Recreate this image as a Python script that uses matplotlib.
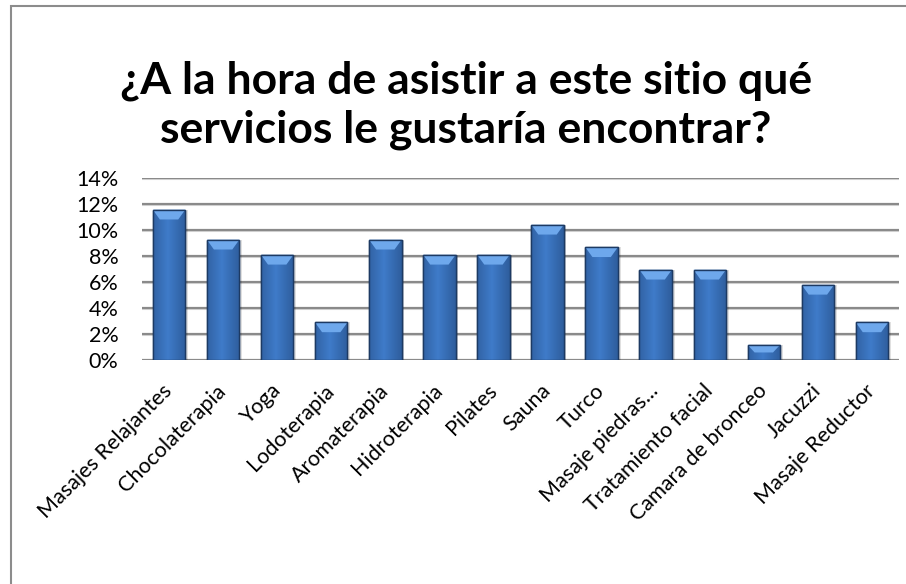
import numpy as np
import matplotlib
matplotlib.use("Agg")
import matplotlib.pyplot as plt
from matplotlib.patches import Rectangle, Polygon
from matplotlib.ticker import FuncFormatter

# ============================================================
# DATA
# ============================================================
services = [
    "Masajes Relajantes", "Chocolaterapia", "Yoga", "Lodoterapia",
    "Aromaterapia", "Hidroterapia", "Pilates", "Sauna", "Turco",
    "Masaje piedras...", "Tratamiento facial", "Camara de bronceo",
    "Jacuzzi", "Masaje Reductor",
]
share_pct = [11.56, 9.25, 8.09, 2.89, 9.25, 8.09, 8.09, 10.40, 8.67,
             6.94, 6.94, 1.16, 5.78, 2.89]
y_ticks = [0, 2, 4, 6, 8, 10, 12, 14]

title = "¿A la hora de asistir a este sitio qué\nservicios le gustaría encontrar?"

# ============================================================
# STYLE
# ============================================================
plt.rcParams["font.family"] = ["Lato", "DejaVu Sans"]
W, H = 906, 584
grid_col = "#8a8a8a"
edge_col = "#1d3a63"

fig = plt.figure(figsize=(W / 100, H / 100), dpi=100)

# chart frame (left + top edges visible)
fig.patches.append(Rectangle((11 / W, -0.2), 1.2, 1.2 - 6 / H,
                             transform=fig.transFigure, fill=False,
                             edgecolor="#8c8c8c", lw=1.5))

ax = fig.add_axes([142 / W, 1 - 360 / H, 757 / W, (360 - 178) / H])

x = np.arange(len(services))
ax.set_xlim(-0.5, len(services) - 0.5)
ax.set_ylim(0, 14)

# gridlines with a faint shadow underneath
for t in y_ticks:
    ax.axhline(t - 0.1, color="#d8d8d8", lw=1.5, zorder=0)
    ax.axhline(t, color=grid_col, lw=1.6, zorder=1)

# soft shadow behind bars
ax.bar(x + 0.05, share_pct, width=0.6, color="#000000", alpha=0.12,
       zorder=2, linewidth=0)

bars = ax.bar(x, share_pct, width=0.6, color="#3a6fb6",
              edgecolor=edge_col, linewidth=1.0, zorder=3)

# horizontal shading across each bar
grad = np.linspace(0, 1, 64)
shade = 1 - 0.55 * np.abs(grad - 0.45) * 2
cmap = matplotlib.colors.LinearSegmentedColormap.from_list(
    "blu", ["#234a80", "#3f7bc9"])
bevel_h = 0.75
bevel_w = 0.13
for b in bars:
    x0, w, h = b.get_x(), b.get_width(), b.get_height()
    im = ax.imshow(shade[None, :], extent=[x0, x0 + w, 0, h], aspect="auto",
                   cmap=cmap, vmin=0, vmax=1, zorder=3.5)
    im.set_clip_path(b)
    bh = min(bevel_h, h * 0.5)
    ax.add_patch(Polygon([(x0, h), (x0 + w, h), (x0 + w - bevel_w, h - bh),
                          (x0 + bevel_w, h - bh)], closed=True,
                         facecolor="#6ea8ec", edgecolor="none", zorder=4))
    ax.add_patch(Rectangle((x0, 0), w, h, fill=False, edgecolor=edge_col,
                           lw=1.0, zorder=5))

ax.set_yticks(y_ticks)
ax.yaxis.set_major_formatter(FuncFormatter(lambda v, p: f"{int(v)}%"))
ax.tick_params(axis="y", length=0, labelsize=15.5, pad=17)
ax.set_xticks(x)
ax.set_xticklabels(services, rotation=45, ha="right", va="center",
                   rotation_mode="anchor", fontsize=15.5)
ax.tick_params(axis="x", length=0, pad=20)
for s in ax.spines.values():
    s.set_visible(False)

fig.text(466 / W, 1 - 105 / H, title, ha="center", va="center",
         fontsize=32, fontweight="bold", linespacing=1.25)

fig.savefig("out.png", dpi=100)
